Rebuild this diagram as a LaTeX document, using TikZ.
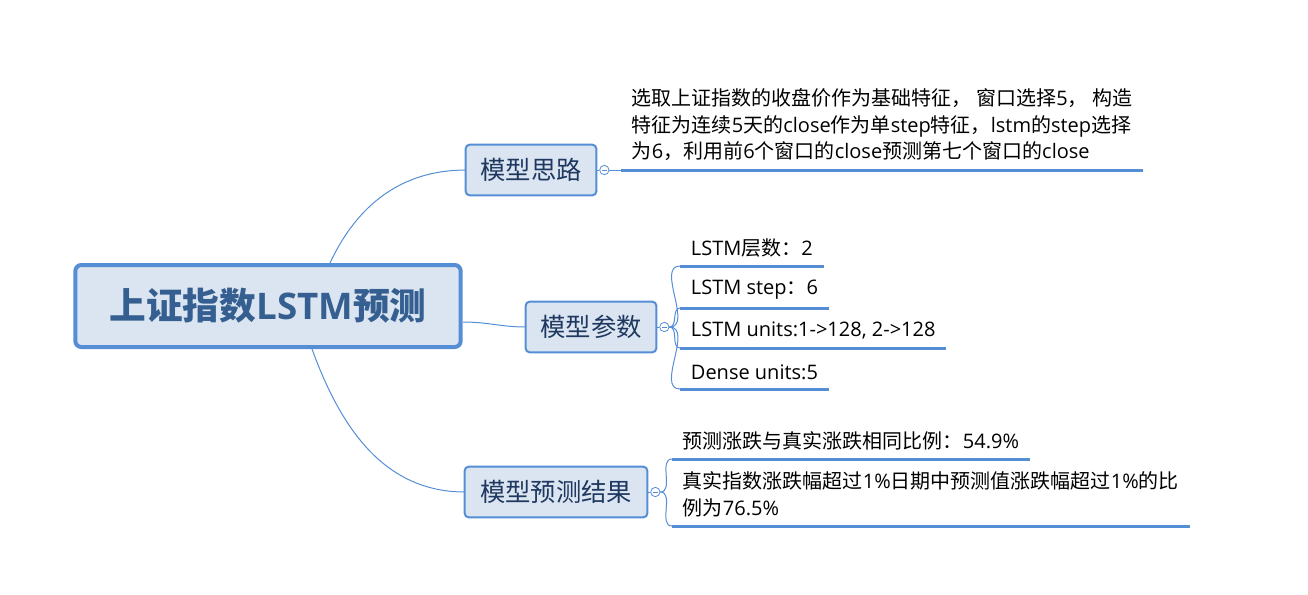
\documentclass[tikz,border=0pt]{standalone}
\usepackage{fontspec}
\setmainfont{Open Sans}
\newfontfamily\latinfont{Open Sans}
\newfontfamily\cjkfont{Noto Sans CJK SC}
\usepackage{tikz}
\usetikzlibrary{calc}
\definecolor{mapblue}{RGB}{85,142,213}
\definecolor{mapfill}{RGB}{219,229,241}
\definecolor{roottext}{RGB}{54,95,145}
\definecolor{subtext}{RGB}{31,56,96}

% Han characters and full-width marks in the CJK font, the rest in Open Sans
\XeTeXinterchartokenstate=1
\newXeTeXintercharclass\hanclass
\count255="3000 \loop\XeTeXcharclass\count255=\hanclass\ifnum\count255<"303F \advance\count255 1 \repeat
\count255="4E00 \loop\XeTeXcharclass\count255=\hanclass\ifnum\count255<"9FFF \advance\count255 1 \repeat
\count255="FF00 \loop\XeTeXcharclass\count255=\hanclass\ifnum\count255<"FFEF \advance\count255 1 \repeat
\XeTeXinterchartoks 0 \hanclass={\cjkfont}
\XeTeXinterchartoks 255 \hanclass={\cjkfont}
\XeTeXinterchartoks 4095 \hanclass={\cjkfont}
\XeTeXinterchartoks \hanclass 0={\latinfont}
\XeTeXinterchartoks 255 0={\latinfont}
\XeTeXinterchartoks 4095 0={\latinfont}

\tikzset{
  rootbox/.style={draw=mapblue,fill=mapfill,line width=3pt,rounded corners=4.5pt,
    minimum width=289pt,minimum height=61.5pt,text=roottext,
    font=\fontsize{27.5}{31}\selectfont\bfseries},
  subbox/.style={draw=mapblue,fill=mapfill,line width=1.5pt,rounded corners=3pt,
    minimum width=98pt,minimum height=38pt,text=subtext,
    font=\fontsize{19}{22}\selectfont},
  fold/.style={circle,draw=mapblue,fill=white,line width=0.6pt,minimum size=7pt,inner sep=0pt,
    path picture={\draw[mapblue,line width=0.6pt] ([xshift=-2pt]path picture bounding box.center) -- ([xshift=2pt]path picture bounding box.center);}},
  leaf/.style={anchor=south west,align=left,inner xsep=8pt,inner ysep=6.5pt,
    font=\fontsize{15}{20}\selectfont},
  leafline/.style={mapblue,line width=2.25pt},
  twig/.style={mapblue,line width=0.75pt}
}

\begin{document}
\begin{tikzpicture}[x=0.75pt,y=-0.75pt]
\useasboundingbox (0,0) rectangle (1308,594);

% branches from the root
\draw[twig] (330,263) to[out=65,in=180] (466,170);
\draw[twig] (463,322) to[out=0,in=180] (526,327);
\draw[twig] (312,349) to[out=-70,in=180] (465,492);

\node[rootbox] (root) at (268,306) {上证指数LSTM预测};
\node[subbox] (idea) at (531,170) {模型思路};
\node[subbox] (para) at (591,327) {模型参数};
\node[subbox,minimum width=137pt] (res) at (556,492) {模型预测结果};

% fold marks
\node[fold] (c1) at ($(idea.east)+(7,0)$) {};
\node[fold] (c2) at ($(para.east)+(7,0)$) {};
\node[fold] (c3) at ($(res.east)+(7,0)$) {};
\draw[twig] (idea.east) -- (c1.west);
\draw[twig] (para.east) -- (c2.west);
\draw[twig] (res.east) -- (c3.west);

% model idea
\node[leaf] (i1) at (621,170) {选取上证指数的收盘价作为基础特征， 窗口选择5， 构造\\特征为连续5天的close作为单step特征，lstm的step选择\\为6，利用前6个窗口的close预测第七个窗口的close};
\draw[twig] (c1.east) -- (i1.south west);
\draw[leafline] (i1.south west) -- (i1.south east);

% model parameters
\foreach \y/\txt [count=\i] in {266/LSTM层数：2, 308/LSTM step：6, 348/{LSTM units:1->128, 2->128}, 389/Dense units:5} {
  \node[leaf] (p\i) at (680,\y) {\txt};
  \draw[twig] (c2.east) to[out=0,in=180] (p\i.south west);
  \draw[leafline] (p\i.south west) -- (p\i.south east);
}

% results
\node[leaf] (r1) at (672,459) {预测涨跌与真实涨跌相同比例：54.9\%};
\node[leaf] (r2) at (672,526) {真实指数涨跌幅超过1\%日期中预测值涨跌幅超过1\%的比\\例为76.5\%};
\foreach \r in {r1,r2} {
  \draw[twig] (c3.east) to[out=0,in=180] (\r.south west);
  \draw[leafline] (\r.south west) -- (\r.south east);
}
\end{tikzpicture}
\end{document}
